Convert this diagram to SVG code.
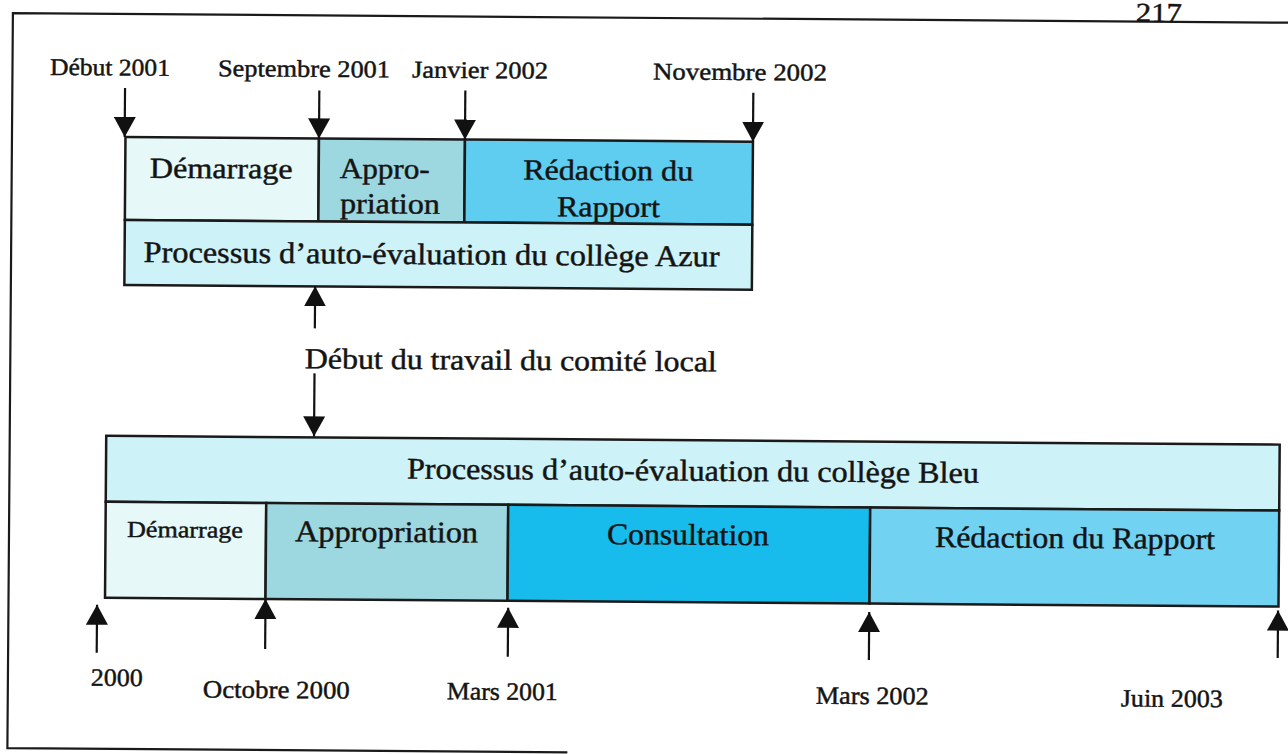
<svg xmlns="http://www.w3.org/2000/svg" width="1288" height="754" viewBox="0 0 1288 754">
  <defs>
    <marker id="head" markerUnits="userSpaceOnUse" markerWidth="22" markerHeight="22" refX="20" refY="11" orient="auto">
      <path d="M0,0 L20,11 L0,22 z" fill="#111"/>
    </marker>
    <style>
      text { font-family: "Liberation Serif", "Times New Roman", serif; fill: #141414; stroke: #141414; stroke-width: 0.45; }
      .frame { fill: none; stroke: #1a1a1a; stroke-width: 2.2; }
      .box { stroke: #1a1a1a; stroke-width: 2.5; }
      .arrow { stroke: #111; stroke-width: 2.2; fill: none; marker-end: url(#head); }
      .date { font-size: 24px; }
      .lbl { font-size: 29px; }
      .big { font-size: 30px; }
      .c-start { fill: #e6f8f8; }
      .c-appro { fill: #9dd7e0; }
      .c-redac { fill: #5ecdef; }
      .c-redac2 { fill: #72d2f2; }
      .c-consult { fill: #17bcec; }
      .c-proc { fill: #cdf2f7; }
    </style>
  </defs>

  <rect width="1288" height="754" fill="#ffffff"/>

  <!-- whole page sits slightly tilted -->
  <g transform="rotate(0.43)">
    <!-- page frame and page number -->
    <g id="page">
      <path class="frame" d="M1310,13 L13,13 L13,748 L573,748"/>
      <text x="1136" y="13" font-size="27" textLength="46" lengthAdjust="spacingAndGlyphs">217</text>
    </g>

    <!-- Azur timeline -->
    <g id="azur-demarrage">
      <rect class="box c-start" x="126.5" y="136" width="193.5" height="83"/>
      <text class="lbl" x="151" y="176.5" textLength="143" lengthAdjust="spacingAndGlyphs">Démarrage</text>
    </g>
    <g id="azur-appropriation">
      <rect class="box c-appro" x="320" y="136" width="146" height="83"/>
      <text class="lbl" x="341" y="175.5" textLength="90" lengthAdjust="spacingAndGlyphs">Appro-</text>
      <text class="lbl" x="341.5" y="210.5" textLength="100" lengthAdjust="spacingAndGlyphs">priation</text>
    </g>
    <g id="azur-redaction">
      <rect class="box c-redac" x="466" y="136" width="288" height="83"/>
      <text class="lbl" x="524.5" y="175.5" textLength="170" lengthAdjust="spacingAndGlyphs">Rédaction du</text>
      <text class="lbl" x="558.5" y="212" textLength="103" lengthAdjust="spacingAndGlyphs">Rapport</text>
    </g>
    <g id="azur-processus">
      <rect class="box c-proc" x="126.5" y="219" width="627.5" height="65"/>
      <text class="big" x="145.5" y="261" textLength="576" lengthAdjust="spacingAndGlyphs">Processus d’auto-évaluation du collège Azur</text>
    </g>

    <!-- Azur dates -->
    <g id="azur-dates">
      <text class="date" x="50.5" y="74.5" textLength="120" lengthAdjust="spacingAndGlyphs">Début 2001</text>
      <text class="date" x="218.5" y="74.5" textLength="172" lengthAdjust="spacingAndGlyphs">Septembre 2001</text>
      <text class="date" x="412.5" y="74.5" textLength="136" lengthAdjust="spacingAndGlyphs">Janvier 2002</text>
      <text class="date" x="653.5" y="74.5" textLength="174" lengthAdjust="spacingAndGlyphs">Novembre 2002</text>
    </g>

    <!-- shared milestone -->
    <g id="comite-local">
      <text class="lbl" x="307.5" y="366" textLength="412" lengthAdjust="spacingAndGlyphs">Début du travail du comité local</text>
    </g>

    <!-- Bleu timeline -->
    <g id="bleu-processus">
      <rect class="box c-proc" x="109.5" y="435" width="1173.5" height="66"/>
      <text class="big" x="410.5" y="475.5" textLength="572" lengthAdjust="spacingAndGlyphs">Processus d’auto-évaluation du collège Bleu</text>
    </g>
    <g id="bleu-demarrage">
      <rect class="box c-start" x="109.5" y="501" width="160.5" height="96"/>
      <text x="131" y="536" font-size="23" textLength="116" lengthAdjust="spacingAndGlyphs">Démarrage</text>
    </g>
    <g id="bleu-appropriation">
      <rect class="box c-appro" x="270" y="501" width="242" height="96"/>
      <text class="big" x="299" y="539" textLength="183" lengthAdjust="spacingAndGlyphs">Appropriation</text>
    </g>
    <g id="bleu-consultation">
      <rect class="box c-consult" x="512" y="501" width="362" height="96"/>
      <text class="big" x="611" y="539.5" textLength="162" lengthAdjust="spacingAndGlyphs">Consultation</text>
    </g>
    <g id="bleu-redaction">
      <rect class="box c-redac2" x="874" y="501" width="409" height="96"/>
      <text class="big" x="939" y="540" textLength="280" lengthAdjust="spacingAndGlyphs">Rédaction du Rapport</text>
    </g>

    <!-- Bleu dates -->
    <g id="bleu-dates">
      <text x="96" y="685" font-size="25" textLength="52" lengthAdjust="spacingAndGlyphs">2000</text>
      <text x="208" y="696" font-size="25" textLength="147" lengthAdjust="spacingAndGlyphs">Octobre 2000</text>
      <text x="452" y="696" font-size="25" textLength="111" lengthAdjust="spacingAndGlyphs">Mars 2001</text>
      <text x="821" y="697.5" font-size="25" textLength="113" lengthAdjust="spacingAndGlyphs">Mars 2002</text>
      <text x="1126" y="698" font-size="25" textLength="102" lengthAdjust="spacingAndGlyphs">Juin 2003</text>
    </g>

    <!-- milestone arrows -->
    <g id="connectors">
      <line class="arrow" x1="125.7" y1="87" x2="125.7" y2="136"/>
      <line class="arrow" x1="320" y1="88" x2="320" y2="136"/>
      <line class="arrow" x1="466" y1="87" x2="466" y2="136"/>
      <line class="arrow" x1="754" y1="87" x2="754" y2="136"/>

      <line class="arrow" x1="317.3" y1="326" x2="317.3" y2="284"/>
      <line class="arrow" x1="317.3" y1="371" x2="317.3" y2="434"/>

      <line class="arrow" x1="101.6" y1="652" x2="101.6" y2="604"/>
      <line class="arrow" x1="270" y1="647" x2="270" y2="597"/>
      <line class="arrow" x1="512.7" y1="653" x2="512.7" y2="604"/>
      <line class="arrow" x1="873.8" y1="653.5" x2="873.8" y2="605.5"/>
      <line class="arrow" x1="1282.6" y1="648.5" x2="1282.6" y2="601"/>
    </g>
  </g>
</svg>
